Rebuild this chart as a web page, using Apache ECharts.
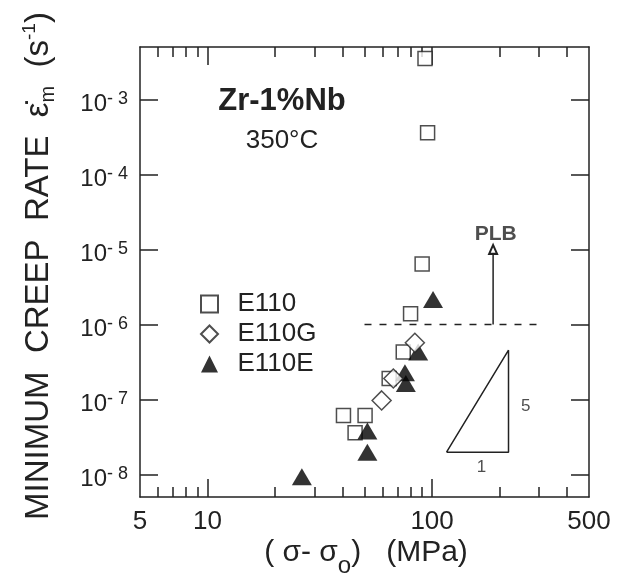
<!DOCTYPE html>
<html>
<head>
<meta charset="utf-8">
<script src="https://cdn.jsdelivr.net/npm/echarts@6/dist/echarts.min.js"></script>
<style>
  html, body { margin: 0; padding: 0; background: #fff; }
  #chart { width: 631px; height: 581px; }
</style>
</head>
<body>
<div id="chart"></div>
<script>
// data
var e110X = [93, 95.5, 90.3, 80.2, 74.4, 64.4, 40.3, 50.3, 45.4];
var e110Y = [3.5e-3, 3.6e-4, 6.4e-6, 1.39e-6, 4.3e-7, 1.9e-7, 6.1e-8, 6.1e-8, 3.6e-8];
var e110gX = [83.8, 67.2, 59.6];
var e110gY = [5.7e-7, 1.9e-7, 9.7e-8];
var e110eX = [101, 86.7, 75.7, 76.4, 51.5, 51.5, 26.3];
var e110eY = [2.15e-6, 4.3e-7, 2.27e-7, 1.63e-7, 3.8e-8, 1.98e-8, 9.3e-9];

var dashX = [50, 300];
var dashY = [1e-6, 1e-6];
var plbX = [187, 187];
var plbY = [1e-6, 1e-5];
var slopeX = [116, 219, 219, 116];
var slopeY = [1.98e-8, 1.98e-8, 4.54e-7, 1.98e-8];

var xLabelTicks = [5, 10, 100, 500];
var xMajorTicks = [10, 100];
var xMinorTicks = [6, 7, 8, 9, 20, 30, 40, 50, 60, 70, 80, 90, 200, 300, 400];
var yTicks = [1e-8, 1e-7, 1e-6, 1e-5, 1e-4, 1e-3];

var FONT = '"Liberation Sans", Arial, Helvetica, sans-serif';
var INK = '#222';

function pairs(xs, ys) {
    return xs.map(function (x, i) { return [x, ys[i]]; });
}

var myChart = echarts.init(document.getElementById('chart'));

function xAxisCfg(pos, ticks, len, showLine, showLabel) {
    return {
        type: 'log', logBase: 10, min: 5, max: 500, position: pos,
        axisLine: { show: showLine, lineStyle: { color: INK, width: 1.5 } },
        axisTick: { show: true, inside: true, length: len, customValues: ticks,
            lineStyle: { color: INK, width: 1.5 } },
        axisLabel: { show: showLabel, customValues: xLabelTicks, margin: 12,
            fontFamily: FONT, fontSize: 26, color: INK },
        splitLine: { show: false },
        minorTick: { show: false }
    };
}

function yAxisCfg(pos, showLabel) {
    return {
        type: 'log', logBase: 10, min: 5e-9, max: 5e-3, position: pos,
        axisLine: { show: true, lineStyle: { color: INK, width: 1.5 } },
        axisTick: { show: true, inside: true, length: 18, customValues: yTicks,
            lineStyle: { color: INK, width: 1.5 } },
        axisLabel: {
            show: showLabel, customValues: yTicks, margin: 12,
            padding: [10, 0, 0, 0],
            formatter: function (v) {
                var e = Math.round(Math.log10(v));
                return '{b|10}{s|- ' + (-e) + '}';
            },
            rich: {
                b: { fontFamily: FONT, fontSize: 24, color: INK, lineHeight: 28 },
                s: { fontFamily: FONT, fontSize: 18, color: INK, lineHeight: 4, verticalAlign: 'top' }
            }
        },
        splitLine: { show: false }
    };
}

var option = {
    animation: false,
    backgroundColor: '#fff',
    grid: { left: 140, right: 42, top: 47, bottom: 84, containLabel: false },
    legend: {
        data: ['E110', 'E110G', 'E110E'],
        orient: 'vertical',
        left: 200, top: 291, padding: 0,
        itemWidth: 17, itemHeight: 17, itemGap: 4,
        symbolKeepAspect: true,
        formatter: '  {name}',
        textStyle: { fontFamily: FONT, fontSize: 26, color: INK }
    },
    xAxis: [
        xAxisCfg('bottom', xMajorTicks, 18, true, true),
        xAxisCfg('bottom', xMinorTicks, 10, false, false),
        xAxisCfg('top', xMajorTicks, 18, true, false),
        xAxisCfg('top', xMinorTicks, 10, false, false)
    ],
    yAxis: [
        yAxisCfg('left', true),
        yAxisCfg('right', false)
    ],
    graphic: [
        {
            type: 'text', x: 39, y: 266, rotation: Math.PI / 2,
            style: {
                text: '{t|MINIMUM  CREEP  RATE  }{t|\u03b5\u0307}{sub|m}{t|  (s}{sup|-1}{t|)}',
                align: 'center', verticalAlign: 'middle',
                rich: {
                    t: { fontFamily: FONT, fontSize: 33, fill: INK, lineHeight: 38 },
                    sub: { fontFamily: FONT, fontSize: 20, fill: INK, lineHeight: 10, verticalAlign: 'bottom' },
                    sup: { fontFamily: FONT, fontSize: 19, fill: INK, lineHeight: 2, verticalAlign: 'top' }
                }
            }
        },
        {
            type: 'text', x: 366, y: 553,
            style: {
                text: '{t|( \u03c3- \u03c3}{sub|o}{t|)   (MPa)}',
                align: 'center', verticalAlign: 'middle',
                rich: {
                    t: { fontFamily: FONT, fontSize: 30, fill: INK, lineHeight: 50 },
                    sub: { fontFamily: FONT, fontSize: 24, fill: INK, lineHeight: 10, verticalAlign: 'bottom' }
                }
            }
        },
        {
            type: 'text', x: 282, y: 101,
            style: { text: 'Zr-1%Nb', fontFamily: FONT, fontSize: 31, fontWeight: 'bold',
                fill: INK, align: 'center', verticalAlign: 'middle' }
        },
        {
            type: 'text', x: 282, y: 141,
            style: { text: '350\u00b0C', fontFamily: FONT, fontSize: 26,
                fill: INK, align: 'center', verticalAlign: 'middle' }
        }
    ],
    series: [
        {
            name: 'slope', type: 'line', data: pairs(slopeX, slopeY),
            showSymbol: false, symbol: 'none', silent: true,
            lineStyle: { color: INK, width: 1.5 }, z: 1
        },
        {
            name: 'limit', type: 'line', data: pairs(dashX, dashY),
            showSymbol: false, symbol: 'none', silent: true,
            lineStyle: { color: INK, width: 1.5, type: [7, 8] }, z: 1
        },
        {
            name: 'plb', type: 'line', silent: true,
            data: [
                { value: [plbX[0], plbY[0]], symbol: 'none' },
                { value: [plbX[1], plbY[1]], symbol: 'emptyTriangle', symbolSize: [8, 9] }
            ],
            itemStyle: { color: INK, borderWidth: 1.2 },
            lineStyle: { color: INK, width: 1.5 }, z: 1
        },
        {
            name: 'notes', type: 'scatter', symbolSize: 0, silent: true,
            data: [
                { name: 'PLB', value: [192, 1.61e-5],
                    label: { fontWeight: 'bold', fontSize: 21 } },
                { name: '5', value: [261, 8.1e-8] },
                { name: '1', value: [166, 1.24e-8] }
            ],
            label: { show: true, position: 'inside', formatter: '{b}',
                fontFamily: FONT, fontSize: 17, color: INK }
        },
        {
            name: 'E110', type: 'scatter', data: pairs(e110X, e110Y),
            symbol: 'rect', symbolSize: 14,
            itemStyle: { color: '#fff', borderColor: INK, borderWidth: 1.5 }, z: 3
        },
        {
            name: 'E110E', type: 'scatter', data: pairs(e110eX, e110eY),
            symbol: 'triangle', symbolSize: [20, 17],
            itemStyle: { color: '#000' }, z: 4
        },
        {
            name: 'E110G', type: 'scatter', data: pairs(e110gX, e110gY),
            symbol: 'diamond', symbolSize: 19,
            itemStyle: { color: '#fff', borderColor: INK, borderWidth: 1.5 }, z: 5
        }
    ]
};

myChart.setOption(option);
window.addEventListener('resize', function () {
    myChart.resize();
});
</script>
</body>
</html>
